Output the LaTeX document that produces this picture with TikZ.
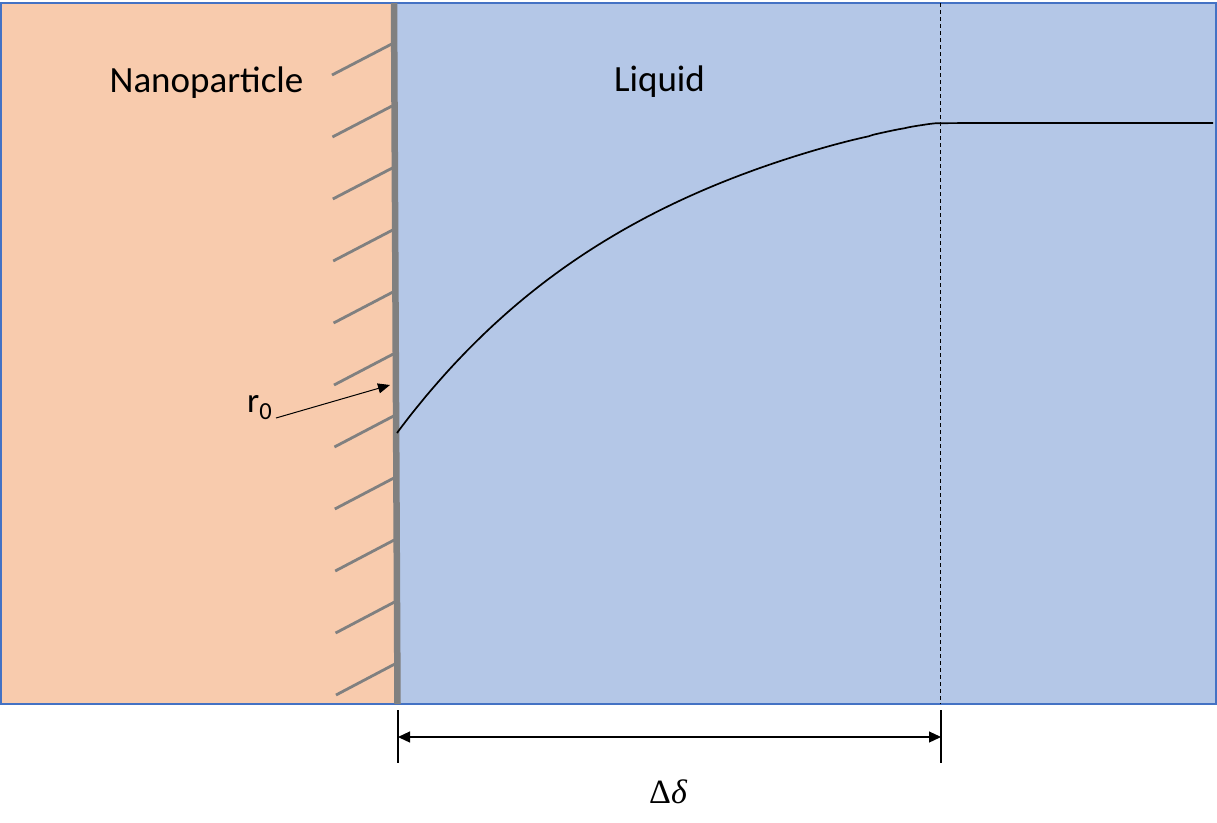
\documentclass[tikz,border=0pt]{standalone}
\usepackage{fontspec}
\setmainfont{Carlito}
\newfontfamily\greekserif{Liberation Serif}
\usetikzlibrary{arrows.meta}
\definecolor{npfill}{HTML}{F8CBAD}
\definecolor{liqfill}{HTML}{B4C7E7}
\definecolor{edgeblue}{HTML}{4472C4}
\definecolor{wallgray}{HTML}{808080}
\tikzset{
  region/.style={draw=edgeblue, line width=1.5pt},
  hatch/.style={draw=wallgray, line width=2.8pt},
  wallline/.style={draw=wallgray, line width=6.5pt},
  profile/.style={draw=black, line width=1.7pt},
  guide/.style={draw=black, line width=0.9pt, dash pattern=on 4pt off 3pt},
  tick/.style={draw=black, line width=1.2pt},
  dimarrow/.style={draw=black, line width=1.2pt, {Triangle[length=12pt,width=11pt]}-{Triangle[length=12pt,width=11pt]}},
  ptr/.style={draw=black, line width=1pt, -{Triangle[length=12pt,width=10pt]}},
  lbl/.style={inner sep=0pt, text=black}
}
\begin{document}
\begin{tikzpicture}[x=1pt,y=-1pt]
\useasboundingbox (0,0) rectangle (1217,822);
% regions
\path[fill=liqfill, region] (395,3) rectangle (1216,704);
\path[fill=npfill, region] (1,3) rectangle (395,704);
% wall
\coordinate (wtop) at (394,3);
\coordinate (wbot) at (397.5,704);
\path[wallline] (wtop) -- (wbot);
% hatches
\foreach \i in {0,...,10}{
  \pgfmathsetmacro{\yr}{44+62*\i}
  \pgfmathsetmacro{\xr}{391.5+3.5*\yr/701}
  \pgfmathsetmacro{\xl}{332+0.4*\i}
  \pgfmathsetmacro{\yl}{\yr+31}
  \path[hatch] (\xl,\yl) -- (\xr,\yr);
}
% guide line
\coordinate (gtop) at (940,3);
\coordinate (gbot) at (940,704);
\path[guide] (gtop) -- (gbot);
% profile curve
\path[profile] plot[domain=0:0.995, samples=120, smooth] ({397+543*\x},{123+310*(1-\x)^(2.35-0.9*\x)}) -- (975,123) -- (1213,123);
% labels
\node[lbl, font=\fontsize{37}{44}\selectfont, anchor=base] (np) at (206.5,92) {Nanoparticle};
\node[lbl, font=\fontsize{37}{44}\selectfont, anchor=base] (liq) at (659.5,91) {Liquid};
\node[lbl, font=\fontsize{35}{40}\selectfont, anchor=base west] (r0) at (247,412) {r\textsubscript{0}};
\coordinate (r0tip) at (390,385);
\coordinate (r0tail) at (276,418);
\path[ptr] (r0tail) -- (r0tip);
% dimension
\coordinate (t1a) at (398,710);
\coordinate (t1b) at (398,763);
\coordinate (t2a) at (941,710);
\coordinate (t2b) at (941,763);
\path[tick] (t1a) -- (t1b);
\path[tick] (t2a) -- (t2b);
\coordinate (d1) at (398,737);
\coordinate (d2) at (941,737);
\path[dimarrow] (d1) -- (d2);
\node[lbl, font=\fontsize{34}{40}\selectfont, anchor=base] (dd) at (668,803) {\greekserif Δ\itshape δ};
\end{tikzpicture}
\end{document}
